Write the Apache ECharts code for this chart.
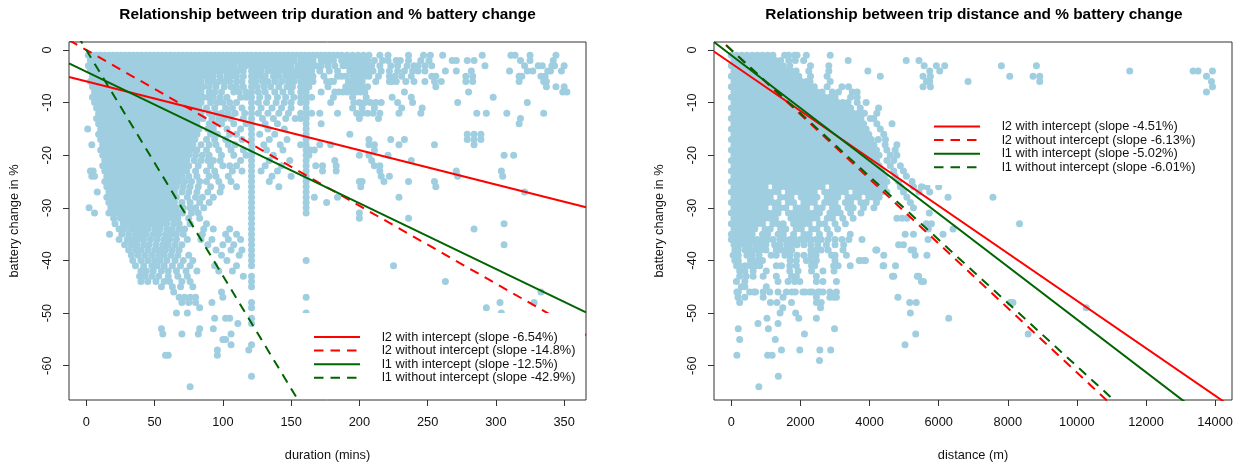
<!DOCTYPE html>
<html>
<head>
<meta charset="utf-8">
<script src="https://cdn.jsdelivr.net/npm/echarts@6/dist/echarts.min.js"></script>
<style>
  html, body { margin: 0; padding: 0; background: #fff; }
  #chart { width: 1244px; height: 465px; }
</style>
</head>
<body>
<div id="chart"></div>
<script>
// Trips: entry i lists the trip values observed with a battery change of -(i + 1) %.
// Trip duration in minutes.
const durationRows = [
  "1.5 4.5 7.5 10.5 13.5 16.5 19.5 22.5 25.5 28.5 31.5 34.5 37.5 40.5 43.5 46.5 49.5 52.5 55.5 58.5 61.5 64.5 67.5 70.5 73.5 76.5 79.5 82.5 85.5 88 91 94 97 100 103 106 109 112 115 118 121 124 127 130 133 136 139 142 145 148 151 154 157 160 163 166 169 172 175 178 181 184 187 191 195 199 203 207 215 221 236 247 252 261 290 311 314 325 344",
  "3 6 9 12 15 18 21 24 27 30 33 36 39 42 45 48 51 54 57 60 63 66 69 72 75 78 81 84 87 90 93 96 99 102 105 108 111 114 118 121 125 129 132 136 140 144 148 152 157 160 163 166 172 175 178 181 187 190 193 196 199 203 206 211 217 221 227 230 236 245 251 268 271 279 284 318 325 342",
  "1.5 4.5 7.5 10.5 13.5 16.5 19.5 22.5 25.5 28.5 31.5 34.5 37.5 40.5 43.5 46.5 49.5 52.5 55.5 58.5 61.5 64.5 67.5 70.5 73.5 76.5 79.5 82.5 85.5 89 92 96 100 104 108 113 117 121 124 128 131 134 138 142 146 150 155 158 161 164 168 172 177 182 188 191 194 197 200 203 206 209 215 223 228 235 240 243 248 253 292 321 331 334 341 343 350",
  "3 6 9 12 15 18 21 24 27 30 33 36 39 42 45 48 51 54 57 60 63 66 69 72 75 78 81 84 88 92 95 99 103 107 111 115 121 125 128 133 137 141 145 149 153 157 161 165 171 178 184 193 196 199 202 206 210 216 222 228 233 239 243 248 263 271 282 310 323 327 338 340 348",
  "4.5 7.5 10.5 13.5 16.5 19.5 22.5 25.5 28.5 31.5 34.5 37.5 40.5 43.5 46.5 49.5 52.5 55.5 58.5 61.5 64.5 67.5 70.5 73.5 76.5 79.5 82.5 85.5 89 93 98 103 106 110 115 121 124 127 131 137 141 146 150 154 157 160 163 166 174 184 187 190 195 198 201 204 207 214 222 226 231 238 253 256 278 283 317 319 333 336",
  "3 6 9 12 15 18 21 24 27 30 33 36 39 42 45 48 51 54 57 60 63 66 69 72 75 78 81 84 89 93 97 101 105 110 114 121 124 129 133 138 143 148 152 157 160 163 166 176 179 181 192 195 198 202 212 222 224 227 234 240 248 255 260 278 283 317 335 337",
  "4.5 7.5 10.5 13.5 16.5 19.5 22.5 25.5 28.5 31.5 34.5 37.5 40.5 43.5 46.5 49.5 52.5 55.5 58.5 61.5 64.5 67.5 70.5 73.5 76.5 79.5 82.5 85.5 90 95 101 106 110 115 121 125 130 135 141 147 151 157 160 163 177 190 193 196 199 202 206 256 337 344 350",
  "6 9 12 15 18 21 24 27 30 33 36 39 42 45 48 51 54 57 60 63 66 69 72 75 78 81 84 90 94 99 108 112 117 121 126 131 138 144 150 157 161 172 182 185 188 191 195 198 201 204 233 280 349 352",
  "4.5 7.5 10.5 13.5 16.5 19.5 22.5 25.5 28.5 31.5 34.5 37.5 40.5 43.5 46.5 49.5 52.5 55.5 58.5 61.5 64.5 67.5 70.5 73.5 76.5 79.5 82.5 85.5 89 93 98 103 113 117 121 127 133 140 146 152 157 161 165 181 195 205 224 238 298",
  "6 9 12 15 18 21 24 27 30 33 36 39 42 45 48 51 54 57 60 63 66 69 72 75 78 81 84 91 96 100 105 110 121 126 132 139 145 150 157 161 179 196 200 204 208 212 216 228 239 272 323",
  "7.5 10.5 13.5 16.5 19.5 22.5 25.5 28.5 31.5 34.5 37.5 40.5 43.5 46.5 49.5 52.5 55.5 58.5 61.5 64.5 67.5 70.5 73.5 76.5 79.5 82.5 88 94 102 107 114 121 128 136 143 150 161 195 202 211 231 246",
  "9 12 15 18 21 24 27 30 33 36 39 42 45 48 51 54 57 60 63 66 69 72 75 78 81 84 90 95 99 104 109 116 121 126 133 141 148 157 161 165 171 184 198 202 206 210 215 229 245 286 293 308 335",
  "7.5 10.5 13.5 16.5 19.5 22.5 25.5 28.5 31.5 34.5 37.5 40.5 43.5 46.5 49.5 52.5 55.5 58.5 61.5 64.5 67.5 70.5 73.5 76.5 79.5 82.5 85.5 92 97 101 106 115 121 129 137 146 153 157 161 200 214 318",
  "9 12 15 18 21 24 27 30 33 36 39 42 45 48 51 54 57 60 63 66 69 72 75 78 81 90 94 99 108 117 121 131 140 161 172 317",
  "1 10.5 13.5 16.5 19.5 22.5 25.5 28.5 31.5 34.5 37.5 40.5 43.5 46.5 49.5 52.5 55.5 58.5 61.5 64.5 67.5 70.5 73.5 76.5 79.5 82.5 89 93 103 113 121 133 145 161",
  "9 12 15 18 21 24 27 30 33 36 39 42 45 48 51 54 57 60 63 66 69 72 75 78 81 91 96 105 110 121 127 138 161 193 279 284 289",
  "10.5 13.5 16.5 19.5 22.5 25.5 28.5 31.5 34.5 37.5 40.5 43.5 46.5 49.5 52.5 55.5 58.5 61.5 64.5 67.5 70.5 73.5 76.5 79.5 88 94 102 114 121 134 147 161 207 223 233 279 284 289",
  "4 12 15 18 21 24 27 30 33 36 39 42 45 48 51 54 57 60 63 66 69 72 75 78 84 90 95 104 109 121 130 142 157 161 171 179 207 211 229 255 284",
  "10.5 13.5 16.5 19.5 22.5 25.5 28.5 31.5 34.5 37.5 40.5 43.5 46.5 49.5 52.5 55.5 58.5 61.5 64.5 67.5 70.5 73.5 76.5 81 88 97 106 115 121 132 144 161 164 167 211",
  "12 15 18 21 24 27 30 33 36 39 42 45 48 51 54 57 60 63 66 69 72 75 80 85 90 99 108 117 121 137 161 163 200 207 221 306 313",
  "13.5 16.5 19.5 22.5 25.5 28.5 31.5 34.5 37.5 40.5 43.5 46.5 49.5 52.5 55.5 58.5 61.5 64.5 67.5 70.5 73.5 79 84 89 93 98 113 121 134 149 161 182 209 238",
  "12 15 18 21 24 27 30 33 36 39 42 45 48 51 54 57 60 63 66 69 72 75 82 91 100 105 110 121 131 143 161 168 173 183 211 215",
  "3 5 13.5 16.5 19.5 22.5 25.5 28.5 31.5 34.5 37.5 40.5 43.5 46.5 49.5 52.5 55.5 58.5 61.5 64.5 67.5 70.5 73.5 80 88 94 107 114 121 128 140 161 173 183 215 271 304",
  "4 6 15 18 21 24 27 30 33 36 39 42 45 48 51 54 57 60 63 66 70 75 81 90 95 104 121 136 150 161 216 222 272 305",
  "13.5 16.5 19.5 22.5 25.5 28.5 31.5 34.5 37.5 40.5 43.5 46.5 49.5 52.5 55.5 58.5 61.5 64.5 67.5 72 77 83 88 97 106 121 134 161 200 202 218 236 255",
  "15 18 21 24 27 30 33 36 39 42 45 48 51 54 57 60 63 66 71 76 82 91 99 110 121 141 161 201 256",
  "8 16.5 19.5 22.5 25.5 28.5 31.5 34.5 37.5 40.5 43.5 46.5 49.5 52.5 55.5 58.5 61.5 64.5 70 75 81 89 98 121 161 321",
  "15 18 21 24 27 30 33 36 39 42 45 48 51 54 57 60 63 66 74 80 85 93 121 161 167 184 229",
  "16.5 19.5 22.5 25.5 28.5 31.5 34.5 37.5 40.5 43.5 46.5 49.5 52.5 55.5 58.5 61.5 64.5 70 76 83 90 121 161 176",
  "2 18 21 24 27 30 33 36 39 42 45 48 51 54 57 60 63 66 71 76 80 86 121 161",
  "6 16.5 19.5 22.5 25.5 28.5 31.5 34.5 37.5 40.5 43.5 46.5 49.5 52.5 55.5 58.5 61.5 64.5 67.5 70.5 77 82 121 161 200",
  "20 25 29 33 36 40 44 48 52 56 60 63 67 75 83 121 200 236",
  "21 27 31 35 39 43 47 51 55 59 64 68 76 88 121 306",
  "24 28 33 37 41 45 50 54 59 63 68 72 86 93 105 121 284",
  "17 26 31 36 40 44 49 53 58 62 66 71 85 102 110 121",
  "24 30 34 38 42 47 52 57 61 66 74 84 92 104 113 121",
  "28 33 37 42 46 51 56 60 65 70 89 100 108 121 306",
  "31 36 40 45 50 54 58 63 68 95 106 114 121",
  "33 38 43 48 53 57 62 67 75 99 112 121",
  "34 40 45 50 54 59 65 71 78 103 121 161",
  "36 42 48 52 57 63 69 76 94 110 121 225",
  "40 44 49 55 60 66 73 81 97 107",
  "39 43 48 53 60 67 74 115 121",
  "40 45 51 57 61 70 76 121 263",
  "55 63 69 78 121",
  "64 99 333",
  "68 72 76 80 100 161",
  "70 75 80 92 121 303 328",
  "83 121 293",
  "66 74 161 304",
  "94 102 105 121",
  "111 121",
  "55 83 93",
  "56 70 82 106",
  "100 102",
  "106 121",
  "96 119",
  "58 60 96",
  "",
  "",
  "",
  "121",
  "",
  "76"
];

// Trip distance in metres.
const distanceRows = [
  "0 150 300 450 600 750 900 1050 1200 1540 1660 1830 1900 2170 2860",
  "75 225 375 525 675 825 975 1125 1275 1425 1660 1850 2090 3380 5060 5430",
  "0 150 300 450 600 750 900 1050 1200 1350 1500 1690 2290 2820 5580 5933 6174 7815 8828",
  "75 225 375 525 675 825 975 1125 1275 1425 1575 1725 1875 2240 2820 3950 5740 6030 11530 13364 13508 13924",
  "0 150 300 450 600 750 900 1050 1200 1350 1500 1650 1800 1950 2290 2770 4310 5546 5760 8056 8731 8924 13750",
  "75 225 375 525 675 825 975 1125 1275 1425 1575 1725 1875 2025 2175 2275 2860 5643 5740 6850 8924 13895",
  "0 150 300 450 600 750 900 1050 1200 1350 1500 1650 1800 1950 2100 2250 2400 2770 3200 3390 5546 5760 13924",
  "75 225 375 525 675 825 975 1125 1275 1425 1575 1725 1875 2025 2175 2325 2475 2625 2920 3100 3500 3640 13750",
  "0 150 300 450 600 750 900 1050 1200 1350 1500 1650 1800 1950 2100 2250 2400 2550 2700 2850 3000 3450 3640",
  "75 225 375 525 675 825 975 1125 1275 1425 1575 1725 1875 2025 2175 2325 2475 2625 2775 2925 3075 3225 3375 3640 3900",
  "0 150 300 450 600 750 900 1050 1200 1350 1500 1650 1800 1950 2100 2250 2400 2550 2700 2850 3000 3150 3300 3450 3730 4260",
  "75 225 375 525 675 825 975 1125 1275 1425 1575 1725 1875 2025 2175 2325 2475 2625 2775 2925 3075 3225 3375 3525 3675 3850 4210",
  "0 150 300 450 600 750 900 1050 1200 1350 1500 1650 1800 1950 2100 2250 2400 2550 2700 2850 3000 3150 3300 3450 3600 3750 4020 4120",
  "75 225 375 525 675 825 975 1125 1275 1425 1575 1725 1875 2025 2175 2325 2475 2625 2775 2925 3075 3225 3375 3525 3675 3825 4210 4650",
  "0 150 300 450 600 750 900 1050 1200 1350 1500 1650 1800 1950 2100 2250 2400 2550 2700 2850 3000 3150 3300 3450 3600 3750 3900 4310",
  "75 225 375 525 675 825 975 1125 1275 1425 1575 1725 1875 2025 2175 2325 2475 2625 2775 2925 3075 3225 3375 3525 3675 3825 3975 4410",
  "0 150 300 450 600 750 900 1050 1200 1350 1500 1650 1800 1950 2100 2250 2400 2550 2700 2850 3000 3150 3300 3450 3600 3750 3900 4050 4250 4460",
  "75 225 375 525 675 825 975 1125 1275 1425 1575 1725 1875 2025 2175 2325 2475 2625 2775 2925 3075 3225 3375 3525 3675 3825 3975 4125 4450 4790",
  "0 150 300 450 600 750 900 1050 1200 1350 1500 1650 1800 1950 2100 2250 2400 2550 2700 2850 3000 3150 3300 3450 3600 3750 3900 4050 4200 4500 4740",
  "75 225 375 525 675 825 975 1125 1275 1425 1575 1725 1875 2025 2175 2325 2475 2625 2775 2925 3075 3225 3375 3525 3675 3825 3975 4125 4275 4600 4790",
  "0 150 300 450 600 750 900 1050 1200 1350 1500 1650 1800 1950 2100 2250 2400 2550 2700 2850 3000 3150 3300 3450 3600 3750 3900 4050 4200 4500 4700",
  "75 225 375 525 675 825 975 1125 1275 1425 1575 1725 1875 2025 2175 2325 2475 2625 2775 2925 3075 3225 3375 3525 3675 3825 3975 4125 4275 4600 4890",
  "0 150 300 450 600 750 900 1050 1200 1350 1500 1650 1800 1950 2100 2250 2400 2550 2700 2850 3000 3150 3300 3450 3600 3750 3900 4050 4200 4350 4700 4980",
  "75 225 375 525 675 825 975 1125 1275 1425 1575 1725 1875 2025 2175 2325 2475 2625 2775 2925 3075 3225 3375 3525 3675 3825 3975 4125 4275 4425 4740 5065",
  "0 150 300 450 600 750 900 1050 1200 1350 1500 1650 1800 1950 2100 2250 2400 2550 2700 2850 3000 3150 3300 3450 3600 3750 3900 4050 4200 4350 4500 4840 5230",
  "75 225 375 525 675 825 975 1275 1425 1575 1725 1875 2025 2175 2325 2475 2625 2925 3075 3225 3375 3525 3675 3825 3975 4125 4275 4425 4890 5270 5500 5660 6000",
  "0 150 300 450 600 750 900 1050 1200 1350 1650 1800 1950 2100 2250 2400 2700 2850 3000 3150 3300 3600 3750 3900 4050 4200 4350 4500 4980 5430 5740",
  "75 225 375 525 675 825 975 1125 1425 1575 1725 2025 2175 2325 2475 2775 2925 3075 3375 3525 3675 3975 4125 4275 5080 6270 7570",
  "0 150 300 450 600 750 900 1050 1200 1350 1650 1800 2100 2250 2400 2700 2850 3000 3300 3450 3750 3900 4200 5180",
  "75 225 375 525 675 825 975 1275 1425 1575 1875 2025 2175 2475 2625 2925 3075 3375 3525 3825 4125 5270",
  "0 150 300 450 600 750 900 1050 1200 1350 1650 1800 1950 2100 2250 2400 2550 2850 3000 3150 3450 3750 5730",
  "75 225 375 525 675 825 975 1125 1275 1725 1875 2025 2175 2325 2475 2775 2925 3225 3525 4790 4940 5080",
  "0 150 300 450 600 750 900 1200 1350 1500 1800 1950 2100 2250 2550 2700 3000 3300 5640 5790 8340",
  "75 225 375 525 675 975 1125 1425 1575 1875 2025 2325 2475 2775 3075 5700 6415",
  "0 150 300 450 600 900 1050 1350 1500 1800 2100 2250 2550 2850 3440 5030 5270 6126",
  "0 150 300 450 600 750 900 1050 1200 1400 1550 1700 1850 2000 2150 2300 2450 2600 2800 3000 3200 3400 3780 5690",
  "75 225 375 525 700 850 1000 1250 1400 1600 1750 1900 2100 2300 2500 2750 3000 3250 4840 4980",
  "100 200 400 550 700 850 1000 1300 1450 1600 1750 2300 2450 2600 2800 3230 4180 4210 5200 5270",
  "50 200 450 600 800 1150 1300 1550 1700 1900 2100 2300 2450 2900 3000 3330 4410 5320 5660",
  "100 200 550 650 800 900 1700 1880 2170 2300 2460 3000 3700 3730 3850 3880",
  "150 250 400 550 700 820 1300 1450 1690 1880 2320 2410 2960 3090 3440 4390 4410 4750",
  "240 390 630 1010 1690 1930 2320 2650 2970",
  "240 430 630 920 1300 1740 1880 2460 4660 4700 5380 5420",
  "145 390 1350 1640 1830 1980 2460 2650 3040 5500 5560",
  "290 390 1010",
  "160 200 530 650 700 920 1110 1350 1590 1750 1850 2070 2140 2270 2340 2510 2550 2650 2850 3040",
  "190 386 920 1495 2460 2850 2960 3040 4820",
  "240 1130 1320 1740 2460 2600 5160 5350 8070 8150",
  "1490 2580 10270",
  "1410 1860 5180",
  "1030 1950 2460 6290",
  "770 1350",
  "200 1070 2985",
  "2115 5335 8590",
  "240 1270",
  "5025",
  "1450 1980 2560 2875",
  "160 1050 1180",
  "2550",
  "",
  "",
  "1360",
  "",
  "795"
];

// Fitted lines: battery change = intercept + slope * x.
const fitNames = ["l2 with intercept", "l2 without intercept", "l1 with intercept", "l1 without intercept"];
const fitColors = ["#ff0000", "#ff0000", "#006400", "#006400"];
const fitDashed = [false, true, false, true];

// slope in % battery per 100 min
const durationSlopePct = [-6.54, -14.8, -12.5, -42.9];
const durationIntercepts = [-5.96, 0, -4.12, 0];
// slope in % battery per 1000 m
const distanceSlopePct = [-4.51, -6.13, -5.02, -6.01];
const distanceIntercepts = [-2.55, 0, -1.0, 0];

const durationTicks = [0, 50, 100, 150, 200, 250, 300, 350];
const distanceTicks = [0, 2000, 4000, 6000, 8000, 10000, 12000, 14000];
const changeTicks = [0, -10, -20, -30, -40, -50, -60];

const durationRange = [-12.7, 366];
const distanceRange = [-503, 14489];
const changeRange = [-66.52, 1.52];

const FONT = "'Liberation Sans', Arial, Helvetica, sans-serif";
const FS = 12.8;
const POINT_COLOR = "#9fcee0";

function rowsToPoints(rows) {
  const pts = [];
  rows.forEach((row, i) => {
    const change = -(i + 1);
    row.trim().split(/\s+/).filter(Boolean).forEach(v => pts.push([Number(v), change]));
  });
  return pts;
}

function fitSeries(gridIdx, range, slopePct, per, intercepts) {
  return fitNames.map((name, i) => {
    const slope = slopePct[i] / per;
    const b = intercepts[i];
    return {
      type: "line",
      name: name + " (slope " + slopePct[i] + "%)",
      xAxisIndex: gridIdx,
      yAxisIndex: gridIdx,
      data: [[range[0], b + slope * range[0]], [range[1], b + slope * range[1]]],
      symbol: "none",
      clip: true,
      silent: true,
      z: 3,
      itemStyle: { color: fitColors[i] },
      lineStyle: { color: fitColors[i], width: 2, type: fitDashed[i] ? [9.5, 7] : "solid" }
    };
  });
}

function xAxis(gridIdx, range, ticks, name) {
  return {
    type: "value", gridIndex: gridIdx, min: range[0], max: range[1],
    name: name, nameLocation: "middle", nameGap: 49,
    nameTextStyle: { fontSize: FS, color: "#111", fontFamily: FONT },
    axisLine: { show: false, onZero: false },
    splitLine: { show: false },
    axisTick: { show: true, customValues: ticks, length: 6, lineStyle: { color: "#333", width: 1 } },
    axisLabel: { customValues: ticks, margin: 16, fontSize: FS, color: "#111", fontFamily: FONT,
                 formatter: v => String(v) }
  };
}

function yAxis(gridIdx) {
  return {
    type: "value", gridIndex: gridIdx, min: changeRange[0], max: changeRange[1],
    name: "battery change in %", nameLocation: "middle", nameGap: 48, nameRotate: 90,
    nameTextStyle: { fontSize: FS, color: "#111", fontFamily: FONT },
    axisLine: { show: false, onZero: false },
    splitLine: { show: false },
    axisTick: { show: true, customValues: changeTicks, length: 6, lineStyle: { color: "#333", width: 1 } },
    axisLabel: { customValues: changeTicks, rotate: 90, margin: 15, fontSize: FS, color: "#111", fontFamily: FONT,
                 formatter: v => String(v) }
  };
}

function legend(left, top, names) {
  return {
    data: names, orient: "vertical", left: left, top: top,
    itemWidth: 46, itemHeight: 12, itemGap: 0.6, padding: 0,
    selectedMode: false, z: 20,
    itemStyle: { opacity: 0 },
    textStyle: { fontSize: FS, color: "#111", fontFamily: FONT, lineHeight: 12, padding: [0, 0, 0, 17] }
  };
}

const durFits = fitSeries(0, durationRange, durationSlopePct, 100, durationIntercepts);
const disFits = fitSeries(1, distanceRange, distanceSlopePct, 1000, distanceIntercepts);

const gridBase = { top: 42, height: 358, show: true, borderColor: "#333", borderWidth: 1,
                   backgroundColor: "transparent", containLabel: false, outerBoundsMode: "none" };

const chart = echarts.init(document.getElementById("chart"), null, { renderer: "canvas" });
chart.setOption({
  animation: false,
  backgroundColor: "#fff",
  title: [
    { text: "Relationship between trip duration and % battery change", left: 322.5, top: 2, textAlign: "center",
      textStyle: { fontSize: 15.4, fontWeight: "bold", color: "#000", fontFamily: FONT } },
    { text: "Relationship between trip distance and % battery change", left: 969, top: 2, textAlign: "center",
      textStyle: { fontSize: 15.4, fontWeight: "bold", color: "#000", fontFamily: FONT } }
  ],
  grid: [
    Object.assign({ left: 69, width: 517 }, gridBase),
    Object.assign({ left: 714, width: 518 }, gridBase)
  ],
  xAxis: [
    xAxis(0, durationRange, durationTicks, "duration (mins)"),
    xAxis(1, distanceRange, distanceTicks, "distance (m)")
  ],
  yAxis: [yAxis(0), yAxis(1)],
  legend: [
    legend(313, 330.5, durFits.map(s => s.name)),
    legend(933, 120, disFits.map(s => s.name))
  ],
  graphic: [
    { type: "rect", shape: { x: 300, y: 313, width: 285, height: 86 }, style: { fill: "#fff" }, z: 10, silent: true },
    { type: "rect", shape: { x: 925, y: 102, width: 306, height: 83 }, style: { fill: "#fff" }, z: 10, silent: true }
  ],
  series: [
    { type: "scatter", xAxisIndex: 0, yAxisIndex: 0, data: rowsToPoints(durationRows),
      symbol: "circle", symbolSize: 7, itemStyle: { color: POINT_COLOR, opacity: 1 },
      silent: true, progressive: 0, z: 2 },
    { type: "scatter", xAxisIndex: 1, yAxisIndex: 1, data: rowsToPoints(distanceRows),
      symbol: "circle", symbolSize: 7, itemStyle: { color: POINT_COLOR, opacity: 1 },
      silent: true, progressive: 0, z: 2 }
  ].concat(durFits, disFits)
});
</script>
</body>
</html>
